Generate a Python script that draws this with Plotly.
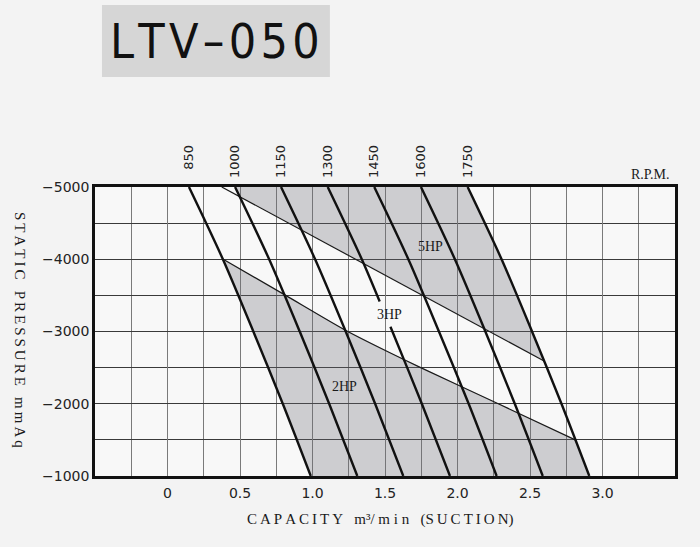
import numpy as np
import plotly.graph_objects as go

# ---------------- data ----------------
pressure_levels = [-5000, -4000, -3000, -2000, -1000]          # mmAq
rpm_labels = ["850", "1000", "1150", "1300", "1450", "1600", "1750"]

capacity_850 = [0.148, 0.382, 0.592, 0.795, 0.988]
capacity_1000 = [0.466, 0.701, 0.912, 1.115, 1.309]
capacity_1150 = [0.783, 1.018, 1.229, 1.432, 1.626]
capacity_1300 = [1.105, 1.340, 1.551, 1.754, 1.948]
capacity_1450 = [1.426, 1.661, 1.872, 2.077, 2.270]
capacity_1600 = [1.748, 1.982, 2.192, 2.395, 2.588]
capacity_1750 = [2.070, 2.304, 2.514, 2.717, 2.909]

# horsepower boundary curves
hp5_boundary_capacity = [0.374, 2.597]
hp5_boundary_pressure = [-5000, -2592]
hp2_boundary_capacity = [0.384, 0.815, 1.243, 1.746, 2.281, 2.812]
hp2_boundary_pressure = [-4000, -3500, -3000, -2500, -2000, -1500]

hp_labels = ["5HP", "3HP", "2HP"]
hp_label_capacity = [1.817, 1.528, 1.224]
hp_label_pressure = [-4183, -3240, -2232]

x_tick_values = [0, 0.5, 1.0, 1.5, 2.0, 2.5, 3.0]
x_tick_labels = ["0", "0.5", "1.0", "1.5", "2.0", "2.5", "3.0"]
y_tick_values = [-5000, -4000, -3000, -2000, -1000]
y_tick_labels = ["\u22125000", "\u22124000", "\u22123000", "\u22122000", "\u22121000"]

# gap in the 1300 rpm curve where the "3HP" label sits
gap_1300 = (-3415, -3065)

curves = dict(zip(rpm_labels, [capacity_850, capacity_1000, capacity_1150,
                                capacity_1300, capacity_1450, capacity_1600,
                                capacity_1750]))


def cap_at(xs, ys, y):
    return np.interp(y, ys, xs)


fig = go.Figure()

FILL = "rgba(105,105,115,0.30)"

# ---- 5HP shaded region ----
yy = np.linspace(-5000, hp5_boundary_pressure[-1], 3000)
d = cap_at(hp5_boundary_capacity, hp5_boundary_pressure, yy) - cap_at(curves["1000"], pressure_levels, yy)
y_int = yy[np.argmax(d >= 0)]
y_end = hp5_boundary_pressure[-1]
top_y = np.array([-5000.0])
seg_right = np.linspace(-5000, y_end, 40)
seg_bottom = np.linspace(y_end, y_int, 40)
seg_left = np.linspace(y_int, -5000, 10)
px = np.concatenate([cap_at(curves["1000"], pressure_levels, top_y),
                     cap_at(curves["1750"], pressure_levels, seg_right),
                     cap_at(hp5_boundary_capacity, hp5_boundary_pressure, seg_bottom),
                     cap_at(curves["1000"], pressure_levels, seg_left)])
py = np.concatenate([top_y, seg_right, seg_bottom, seg_left])
fig.add_trace(go.Scatter(x=px, y=py, fill="toself", fillcolor=FILL, mode="lines",
                         line=dict(width=0), hoverinfo="skip", showlegend=False))

# ---- 2HP shaded region ----
y0 = hp2_boundary_pressure[0]
y1 = hp2_boundary_pressure[-1]
seg_left = np.linspace(y0, -1000, 40)
seg_right = np.linspace(-1000, y1, 20)
seg_top = np.linspace(y1, y0, 60)
px = np.concatenate([cap_at(curves["850"], pressure_levels, seg_left),
                     cap_at(curves["1750"], pressure_levels, seg_right),
                     cap_at(hp2_boundary_capacity, hp2_boundary_pressure, seg_top)])
py = np.concatenate([seg_left, seg_right, seg_top])
fig.add_trace(go.Scatter(x=px, y=py, fill="toself", fillcolor=FILL, mode="lines",
                         line=dict(width=0), hoverinfo="skip", showlegend=False))

# ---- HP boundary lines ----
for xs, ys in [(hp5_boundary_capacity, hp5_boundary_pressure),
               (hp2_boundary_capacity, hp2_boundary_pressure)]:
    fig.add_trace(go.Scatter(x=xs, y=ys, mode="lines",
                             line=dict(color="#1a1a1a", width=1.2, shape="spline", smoothing=0.6),
                             hoverinfo="skip", showlegend=False))

# ---- RPM curves ----
for name, caps in curves.items():
    if name == "1300":
        ys = np.array(pressure_levels, dtype=float)
        upper = ys[ys < gap_1300[0]]
        lower = ys[ys > gap_1300[1]]
        y_line = list(upper) + [gap_1300[0], None, gap_1300[1]] + list(lower)
        x_line = (list(cap_at(caps, pressure_levels, upper)) +
                  [float(cap_at(caps, pressure_levels, gap_1300[0])), None,
                   float(cap_at(caps, pressure_levels, gap_1300[1]))] +
                  list(cap_at(caps, pressure_levels, lower)))
    else:
        x_line, y_line = caps, pressure_levels
    fig.add_trace(go.Scatter(x=x_line, y=y_line, mode="lines",
                             line=dict(color="#111111", width=2.4, shape="spline", smoothing=0.8),
                             hoverinfo="skip", showlegend=False))

# invisible trace to activate the top RPM axis
top_x = [curves[n][0] for n in rpm_labels]
fig.add_trace(go.Scatter(x=top_x, y=[-5000] * len(top_x), xaxis="x2", mode="markers",
                         marker=dict(opacity=0), hoverinfo="skip", showlegend=False))

SERIF = "Liberation Serif, Times New Roman, serif"
SANS = "DejaVu Sans, sans-serif"

# HP labels
for t, xv, yv in zip(hp_labels, hp_label_capacity, hp_label_pressure):
    fig.add_annotation(x=xv, y=yv, text=t, showarrow=False, xanchor="center", yanchor="middle",
                       font=dict(family=SERIF, size=14, color="#1a1a1a"))

# title box
fig.add_shape(type="rect", xref="paper", yref="paper", x0=0.012, x1=0.405,
              y0=1.381, y1=1.630, fillcolor="#d6d6d6", line=dict(width=0), layer="below")
fig.add_annotation(xref="paper", yref="paper", x=0.207, y=1.505, showarrow=False,
                   xanchor="center", yanchor="middle",
                   text="L\u200aT\u200aV\u200a\u2013\u200a0\u200a5\u200a0",
                   font=dict(family="Liberation Sans Narrow, DejaVu Sans Condensed, Roboto Condensed, Roboto, sans-serif",
                             size=48, color="#111111"))

# R.P.M.
fig.add_annotation(xref="paper", yref="paper", x=0.995, y=1.042, xanchor="right",
                   yanchor="middle", showarrow=False, text="R.P.M.",
                   font=dict(family=SERIF, size=14, color="#1a1a1a"))

# axis titles
fig.add_annotation(xref="paper", yref="paper", x=-0.129, y=0.505, textangle=90,
                   xanchor="center", yanchor="middle", showarrow=False,
                   text="S\u2009T\u2009A\u2009T\u2009I\u2009C\u2002 P\u2009R\u2009E\u2009S\u2009S\u2009U\u2009R\u2009E\u2002 m\u2009m\u2009A\u2009q",
                   font=dict(family=SERIF, size=15, color="#1a1a1a"))
fig.add_annotation(xref="paper", yref="paper", x=0.491, y=-0.149, showarrow=False,
                   xanchor="center", yanchor="middle",
                   text="C\u2009A\u2009P\u2009A\u2009C\u2009I\u2009T\u2009Y\u2002 m\u00b3/ m i n\u2002 (S\u2009U\u2009C\u2009T\u2009I\u2009O\u2009N)",
                   font=dict(family=SERIF, size=15, color="#1a1a1a"))

fig.update_layout(
    width=700, height=547, autosize=False,
    margin=dict(l=95, r=25, t=187, b=71),
    paper_bgcolor="#f3f3f3", plot_bgcolor="#f8f8f8",
    showlegend=False,
    xaxis=dict(range=[-0.5, 3.5], tickvals=x_tick_values, ticktext=x_tick_labels,
               showgrid=True, gridcolor="#7a7a7a", gridwidth=1,
               minor=dict(tick0=-0.5, dtick=0.25, showgrid=True, gridcolor="#7a7a7a", gridwidth=1),
               showline=True, mirror=True, linecolor="#111111", linewidth=2.5,
               zeroline=False, ticks="", ticklabelstandoff=2,
               tickfont=dict(family=SANS, size=14, color="#222222")),
    xaxis2=dict(range=[-0.5, 3.5], overlaying="x", side="top",
                tickvals=top_x, ticktext=[s.rjust(4, "\u2007") for s in rpm_labels],
                tickangle=-90, showgrid=False, zeroline=False, ticks="",
                ticklabelstandoff=8,
                tickfont=dict(family=SANS, size=13, color="#222222")),
    yaxis=dict(range=[-1000, -5000], tickvals=y_tick_values, ticktext=y_tick_labels,
               showgrid=True, gridcolor="#3a3a3a", gridwidth=1.2,
               minor=dict(dtick=500, showgrid=True, gridcolor="#3a3a3a", gridwidth=1.2),
               showline=True, mirror=True, linecolor="#111111", linewidth=2.5,
               zeroline=False, ticks="", ticklabelstandoff=0,
               tickfont=dict(family=SANS, size=14, color="#222222")),
)

fig.write_html("out.html", config={"displayModeBar": False},
               post_script="document.body.style.margin='0';document.body.style.background='#f3f3f3';")
